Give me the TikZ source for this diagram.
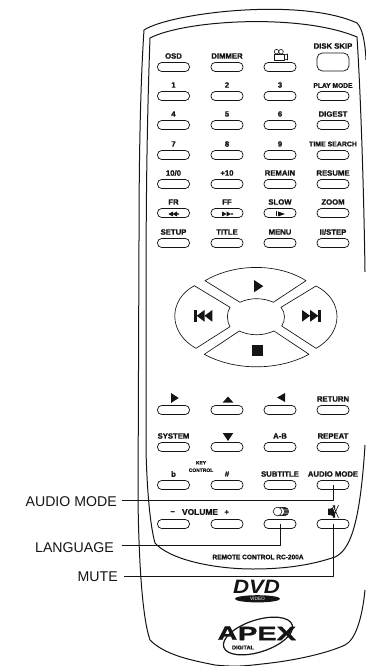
\documentclass[tikz,border=0pt]{standalone}
\usepackage{fontspec}
\setmainfont{Liberation Sans}[BoldFeatures={FakeBold=1.2}]
\usetikzlibrary{positioning,calc,shapes.geometric}
\definecolor{inkblack}{RGB}{20,20,20}

\begin{document}
\begin{tikzpicture}[
    x=0.75pt, y=-0.75pt,
    line join=round,
    bodyline/.style={draw=inkblack, line width=0.75pt},
    keybox/.style={rectangle, rounded corners=3.2pt, draw=inkblack, line width=0.55pt, minimum width=24pt, minimum height=6.8pt, inner sep=0pt},
    keylabel/.style={font=\fontsize{5.8pt}{6pt}\selectfont\bfseries, inner sep=0pt, text=inkblack},
    smalllabel/.style={font=\fontsize{#1}{5pt}\selectfont\bfseries, inner sep=0pt, text=inkblack, align=center},
    calloutlabel/.style={font=\fontsize{10.6pt}{12pt}\selectfont, inner sep=0pt, text=inkblack},
    calloutline/.style={draw=inkblack, line width=0.6pt},
    padline/.style={draw=inkblack, line width=0.5pt},
    glyph/.style={fill=inkblack, draw=none},
    iconline/.style={draw=inkblack, line width=0.45pt}
]
\useasboundingbox (0,0) rectangle (365,666);

% Remote body
\draw[bodyline] (139,240) .. controls (139,170) and (140,90) .. (144,30)
    .. controls (170,13) and (300,-3) .. (357,23) .. controls (362,28) and (365,40) .. (366,60);
\draw[bodyline] (139,240) -- (138,500) .. controls (139,570) and (143,620) .. (150,640)
    .. controls (165,655) and (190,660) .. (215,665) .. controls (235,667) and (245,666) .. (262,664)
    .. controls (300,660) and (330,652) .. (345,645) .. controls (355,640) and (362,620) .. (365,590);
\draw[bodyline] (146,300) .. controls (146,200) and (147,120) .. (150,38)
    .. controls (185,20) and (300,13) .. (357,37) .. controls (361,100) and (364,200) .. (365,272);
\draw[bodyline] (146,300) -- (146,450) .. controls (147,490) and (150,525) .. (155,543)
    .. controls (170,560) and (215,569) .. (253,569) .. controls (295,569) and (320,562) .. (335,557)
    .. controls (350,550) and (360,525) .. (365,445);

% Labelled keys
\foreach \keyx/\keyy/\keyname/\keytext in {
    173.5/67/osd/OSD, 227/67/dimmer/DIMMER,
    173.5/96/one/1, 227/96/two/2, 280/96/three/3,
    173.5/125/four/4, 227/125/five/5, 280/125/six/6, 333/125/digest/DIGEST,
    173.5/155/seven/7, 227/155/eight/8, 280/155/nine/9,
    173.5/184/tenzero/{10/0}, 227/184/plusten/+10, 280/184/remain/REMAIN, 333/184/resume/RESUME,
    173.5/213/fr/FR, 227/213/ff/FF, 280/213/slow/SLOW, 333/213/zoom/ZOOM,
    173.5/243/setup/SETUP, 227/243/titlekey/TITLE, 280/243/menu/MENU, 333/243/stepkey/{II/STEP},
    333/410/return/RETURN,
    173.5/447/system/SYSTEM, 280/447/ab/A-B, 333/447/repeat/REPEAT,
    173.5/485/flat/b, 227/485/sharp/\#, 280/485/subtitle/SUBTITLE, 333/485/audiomode/{AUDIO MODE}}{
  \node[keybox] (\keyname) at (\keyx,\keyy) {};
  \node[keylabel] (\keyname text) at (\keyx,\keyy-11) {\keytext};
}

% Keys with a symbol or a small label
\foreach \keyx/\keyy/\keyname in {280/67/camera, 333/96/playmode, 333/155/timesearch,
    173.5/410/rightkey, 227/410/upkey, 280/410/leftkey, 227/447/downkey,
    173.5/524/voldown, 227/524/volup, 280/524/language, 333/524/mute}{
  \node[keybox] (\keyname) at (\keyx,\keyy) {};
}
\node[keybox, minimum height=13.5pt, rounded corners=4pt] (diskskip) at (333,62) {};

\node[keylabel] (diskskiptext) at (333,46) {DISK SKIP};
\node[smalllabel=5pt] (playmodetext) at (333,85.5) {PLAY MODE};
\node[smalllabel=5.2pt] (timesearchtext) at (333,144) {TIME SEARCH};
\node[smalllabel=3.7pt] (keycontrol) at (201,466.5) {KEY\\[0.6pt]CONTROL};
\node[keylabel, font=\fontsize{6.3pt}{6pt}\selectfont\bfseries] (volumetext) at (200,512) {VOLUME};
\node[keylabel] (minustext) at (172.7,512.5) {--};
\node[keylabel] (plustext) at (226.7,512.5) {+};
\node[smalllabel=4.9pt] (modeltext) at (258,557) {REMOTE CONTROL RC-200A};

% Round pad
\draw[padline] (205,280.7) .. controls (235,263) and (278,263) .. (306,280.7) -- (273.3,302.3)
    .. controls (263,297.5) and (250,297.5) .. (240,302.3) -- cycle;
\draw[padline] (194.3,285.7) .. controls (168,300) and (168,333) .. (196,348.3) -- (230,326.7)
    .. controls (226.5,320) and (226.5,313) .. (230,307.3) -- cycle;
\draw[padline] (316,286) .. controls (344,300) and (344,333) .. (316,348.3) -- (281.7,326)
    .. controls (285.5,320) and (285.5,313) .. (281,307.3) -- cycle;
\draw[padline] (204.3,354.3) .. controls (235,371) and (278,371) .. (309,354.3) -- (274,331)
    .. controls (263,336) and (250,336) .. (239.3,331) -- cycle;

% Pad and key symbols
\fill[glyph] (254,280) -- (263.3,286.2) -- (254,292.3) -- cycle;
\fill[glyph] (251.7,345) rectangle (262.7,355.7);
\fill[glyph] (194.3,310) rectangle (196.7,321.7);
\fill[glyph] (204.5,310) -- (196.7,315.8) -- (204.5,321.7) -- cycle;
\fill[glyph] (212.3,310) -- (204.5,315.8) -- (212.3,321.7) -- cycle;
\fill[glyph] (318.3,310) rectangle (320.7,321.7);
\fill[glyph] (302,310) -- (310.2,315.8) -- (302,321.7) -- cycle;
\fill[glyph] (310.2,310) -- (318.3,315.8) -- (310.2,321.7) -- cycle;
\fill[glyph] (171,393) -- (178.7,398) -- (171,403) -- cycle;
\fill[glyph] (222.7,402.5) -- (228,396.5) -- (233.3,402.5) -- cycle;
\fill[glyph] (285,393) -- (277,397.5) -- (285,402) -- cycle;
\fill[glyph] (222.7,433) -- (233.3,433) -- (228,441) -- cycle;
\fill[glyph] (173,211.5) -- (168.3,214) -- (173,216.5) -- cycle;
\fill[glyph] (177,211.5) -- (172.5,214) -- (177,216.5) -- cycle (177,213.4) rectangle (179,214.6);
\fill[glyph] (226.5,211.5) -- (231,214) -- (226.5,216.5) -- cycle;
\fill[glyph] (222,211.5) -- (226.5,214) -- (222,216.5) -- cycle (231,213.4) rectangle (233,214.6);
\fill[glyph] (276,211.5) rectangle (277,216.5);
\fill[glyph] (278,211.5) -- (285,214) -- (278,216.5) -- cycle;

% Camera
\draw[iconline] (274,54) rectangle (284.5,60);
\draw[iconline] (276.5,51.7) circle (2.3);
\draw[iconline] (281,51.7) circle (2.3);
\draw[iconline] (284.5,55) -- (287.5,54) -- (287.5,60) -- (284.5,59);

% Language
\foreach \ringx in {284.5,283.5,282.5,281.5,280.5}{
  \draw[iconline, fill=white] (\ringx,511.5) circle (4.2);
}
\draw[iconline, fill=white] (277.5,511.5) circle (4.3);

% Mute
\fill[glyph] (328,508.5) rectangle (331,515) (331,508.5) -- (335,505) -- (335,518) -- (331,515) -- cycle;
\draw[iconline, line width=0.6pt, draw=white] (332,505) -- (338,518);
\draw[iconline] (333,505) -- (338.5,518) (338.5,505) -- (333,518);

% Callouts
\node[calloutlabel, anchor=east] (audiolabel) at (117,502) {AUDIO MODE};
\node[calloutlabel, anchor=east] (languagelabel) at (114,548) {LANGUAGE};
\node[calloutlabel, anchor=east] (mutelabel) at (118,577) {MUTE};
\coordinate (audiostart) at (122,500);
\coordinate (languagestart) at (122,545);
\coordinate (mutestart) at (124,576);
\draw[calloutline] (audiostart) -| (audiomode.center);
\draw[calloutline] (languagestart) -| (language.center);
\draw[calloutline] (mutestart) -| (mute.center);

% DVD logo
\node[inner sep=0pt, text=inkblack, font=\fontsize{14.5pt}{15pt}\selectfont\bfseries\itshape, xscale=1.15] (dvdtext) at (256.5,587) {DVD};
\node[ellipse, fill=inkblack, minimum width=34pt, minimum height=5.4pt, inner sep=0pt, text=white, font=\fontsize{3.6pt}{4pt}\selectfont] (dvdvideo) at (257.5,598.8) {VIDEO};

% Apex logo
\node[ellipse, draw=inkblack, line width=0.9pt, minimum width=54pt, minimum height=24pt, rotate=18, inner sep=0pt] (apexring) at (258,636) {};
\node[inner sep=0pt, text=inkblack, font=\fontsize{14.5pt}{15pt}\selectfont\bfseries, xscale=1.4] (apexa) at (227.5,633) {A};
\node[inner sep=0pt, text=inkblack, font=\fontsize{14.5pt}{15pt}\selectfont\bfseries, xscale=1.5] (apextext) at (267,633.5) {PEX};
\node[smalllabel=4.2pt, inner sep=0.4pt] (digitaltext) at (243,647.5) {DIGITAL};
\end{tikzpicture}
\end{document}
